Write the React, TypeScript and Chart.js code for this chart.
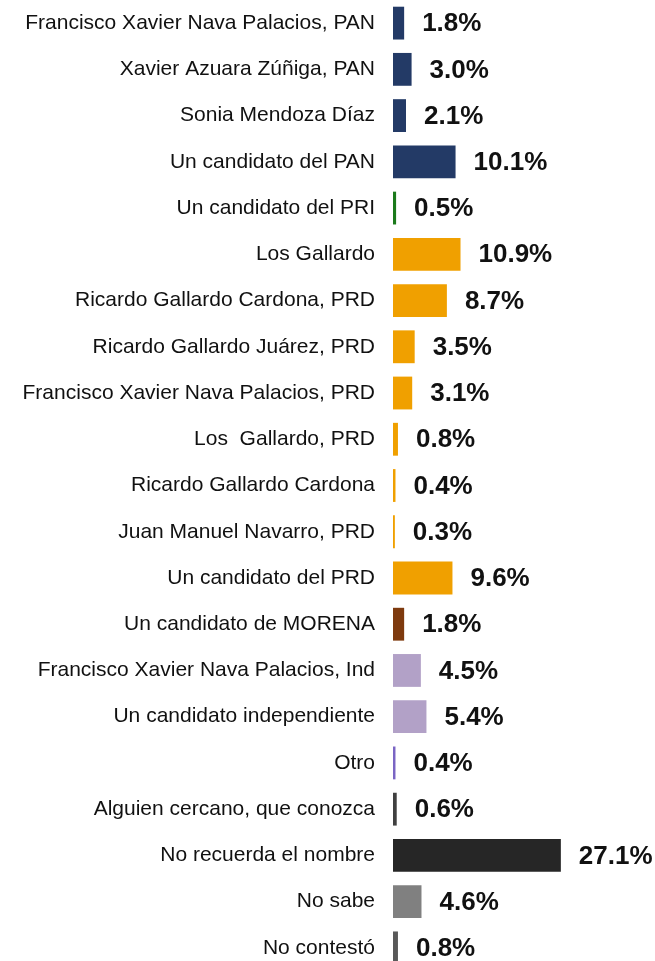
import React, { useEffect, useRef } from "react";
import { Chart, registerables } from "chart.js";

Chart.register(...registerables);

const categories = [
  "Francisco Xavier Nava Palacios, PAN",
  "Xavier Azuara Zúñiga, PAN",
  "Sonia Mendoza Díaz",
  "Un candidato del PAN",
  "Un candidato del PRI",
  "Los Gallardo",
  "Ricardo Gallardo Cardona, PRD",
  "Ricardo Gallardo Juárez, PRD",
  "Francisco Xavier Nava Palacios, PRD",
  "Los  Gallardo, PRD",
  "Ricardo Gallardo Cardona",
  "Juan Manuel Navarro, PRD",
  "Un candidato del PRD",
  "Un candidato de MORENA",
  "Francisco Xavier Nava Palacios, Ind",
  "Un candidato independiente",
  "Otro",
  "Alguien cercano, que conozca",
  "No recuerda el nombre",
  "No sabe",
  "No contestó",
];

const values = [1.8, 3.0, 2.1, 10.1, 0.5, 10.9, 8.7, 3.5, 3.1, 0.8, 0.4, 0.3, 9.6, 1.8, 4.5, 5.4, 0.4, 0.6, 27.1, 4.6, 0.8];

const NAVY = "#233a66";
const GREEN = "#1b7a1b";
const ORANGE = "#f0a000";
const BROWN = "#7e3a0e";
const LILAC = "#b2a1c7";
const PURPLE = "#7a65c4";

const colors = [
  NAVY, NAVY, NAVY, NAVY,
  GREEN,
  ORANGE, ORANGE, ORANGE, ORANGE, ORANGE, ORANGE, ORANGE, ORANGE,
  BROWN,
  LILAC, LILAC,
  PURPLE,
  "#404040", "#262626", "#808080", "#595959",
];

const FONT = "'Liberation Sans', Arial, Helvetica, sans-serif";

const valueLabels = {
  id: "valueLabels",
  afterDatasetsDraw(chart: any) {
    const ctx = chart.ctx;
    const meta = chart.getDatasetMeta(0);
    ctx.save();
    ctx.font = "bold 26px " + FONT;
    ctx.fillStyle = "#111111";
    ctx.textAlign = "left";
    ctx.textBaseline = "middle";
    meta.data.forEach((bar: any, i: number) => {
      ctx.fillText(values[i].toFixed(1) + "%", bar.x + 18, bar.y + 1);
    });
    ctx.restore();
  },
};

export default function App() {
  const ref = useRef<HTMLCanvasElement | null>(null);
  useEffect(() => {
    document.body.style.margin = "0";
    const chart = new Chart(ref.current!, {
      type: "bar",
      data: {
        labels: categories,
        datasets: [
          {
            data: values,
            backgroundColor: colors,
            borderWidth: 0,
            categoryPercentage: 1,
            barPercentage: 0.71,
          },
        ],
      },
      options: {
        indexAxis: "y",
        animation: false,
        responsive: false,
        maintainAspectRatio: false,
        layout: { padding: 0 },
        plugins: { legend: { display: false }, tooltip: { enabled: false } },
        scales: {
          x: { display: false, min: 0, max: 42.3 },
          y: {
            grid: { display: false, drawTicks: false },
            border: { display: false },
            afterFit(scale: any) {
              scale.width = 393;
              scale.paddingTop = 0;
              scale.paddingBottom = 0;
            },
            ticks: {
              padding: 18,
              color: "#111111",
              autoSkip: false,
              font: { family: FONT, size: 21 },
            },
          },
        },
      },
      plugins: [valueLabels],
    });
    return () => chart.destroy();
  }, []);
  return (
    <div style={{ position: "absolute", top: 0, left: 0, width: 655, height: 961, overflow: "hidden", background: "#fff" }}>
      <canvas ref={ref} width={655} height={971} style={{ display: "block" }} />
    </div>
  );
}
